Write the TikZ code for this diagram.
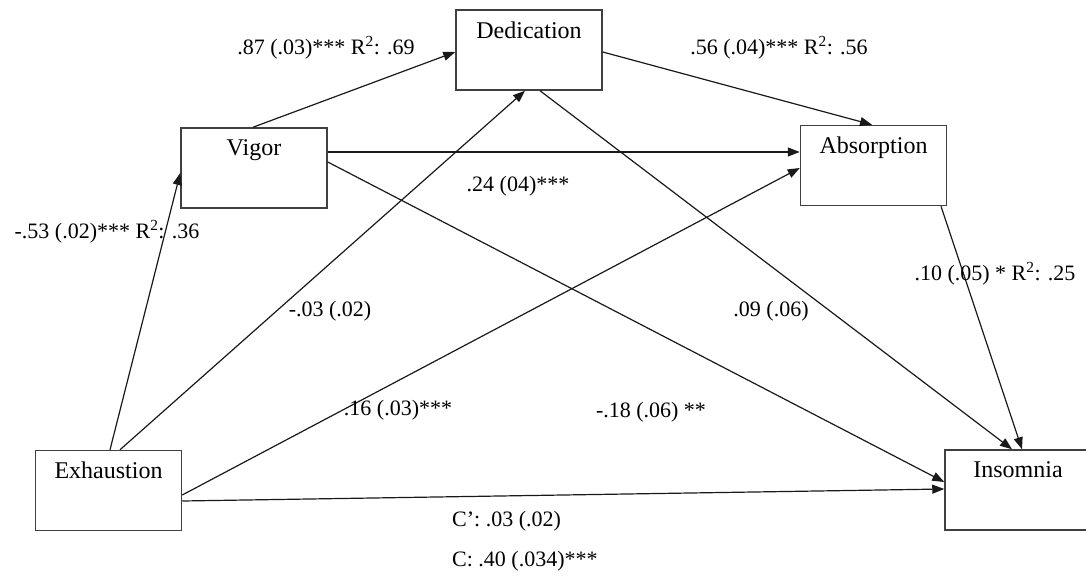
\documentclass[tikz,border=0pt]{standalone}
\usepackage{fontspec}
\setmainfont{Liberation Serif}
\usetikzlibrary{arrows.meta}
\tikzstyle{factor} = [rectangle, draw=black!75, line width=1.5pt, minimum width=146pt, minimum height=80pt, inner sep=0pt]
\tikzstyle{boxtext} = [font=\fontsize{24}{28}\selectfont, anchor=north, inner sep=0pt, yshift=-12pt]
\tikzstyle{effect} = [draw=black!90, line width=1.2pt, -{Triangle[length=12pt,width=9pt]}]
\tikzstyle{coef} = [font=\fontsize{22}{26}\selectfont, inner sep=0pt]

\begin{document}
\begin{tikzpicture}[x=1pt,y=-1pt]
\useasboundingbox (0,0) rectangle (1086,577);
% boxes
\node[factor, label={[boxtext]north:Dedication}] (ded) at (529,50) {};
\node[factor, label={[boxtext]north:Vigor}] (vig) at (254,168) {};
\node[factor, label={[boxtext]north:Absorption}] (abs) at (873.5,165.5) {};
\node[factor, label={[boxtext]north:Exhaustion}] (exh) at (108.5,490.5) {};
\node[factor, label={[boxtext]north:Insomnia}] (ins) at (1018,490) {};
% paths
\draw[effect] ([xshift=1.5pt]exh.north) -- ([yshift=-5pt]vig.west);
\draw[effect] ([xshift=11.5pt]exh.north) -- ([xshift=-4pt]ded.south);
\draw[effect] ([yshift=-4.5pt]exh.east) -- ([yshift=-2.5pt]abs.west);
\draw[effect] ([yshift=-10.5pt]exh.east) -- ([yshift=1pt]ins.west);
\draw[effect] ([xshift=-1pt]vig.north) -- ([yshift=-2pt]ded.west);
\draw[effect] ([yshift=16pt]vig.east) -- ([yshift=13.5pt]abs.west);
\draw[effect] ([yshift=6pt]vig.east) -- ([yshift=8pt]ins.west);
\draw[effect] ([yshift=-2pt]ded.east) -- ([xshift=-1.5pt]abs.north);
\draw[effect] ([xshift=11pt]ded.south) -- ([xshift=-6pt]ins.north);
\draw[effect] ([xshift=67.5pt]abs.south) -- ([xshift=4pt]ins.north);
% coefficients
\node[coef] (c1) at (326,48) {.87 (.03)*** R\textsuperscript{2}: .69};
\node[coef] (c2) at (779,48) {.56 (.04)*** R\textsuperscript{2}: .56};
\node[coef] (c3) at (107,232) {-.53 (.02)*** R\textsuperscript{2}: .36};
\node[coef] (c4) at (518,186) {.24 (04)***};
\node[coef] (c5) at (330,311) {-.03 (.02)};
\node[coef] (c6) at (771,311) {.09 (.06)};
\node[coef] (c7) at (995,274) {.10 (.05) * R\textsuperscript{2}: .25};
\node[coef] (c8) at (398,410) {.16 (.03)***};
\node[coef] (c9) at (651,412) {-.18 (.06) **};
\node[coef, anchor=west] (c10) at (452,521) {C’: .03 (.02)};
\node[coef, anchor=west] (c11) at (452,561) {C: .40 (.034)***};
\end{tikzpicture}
\end{document}
